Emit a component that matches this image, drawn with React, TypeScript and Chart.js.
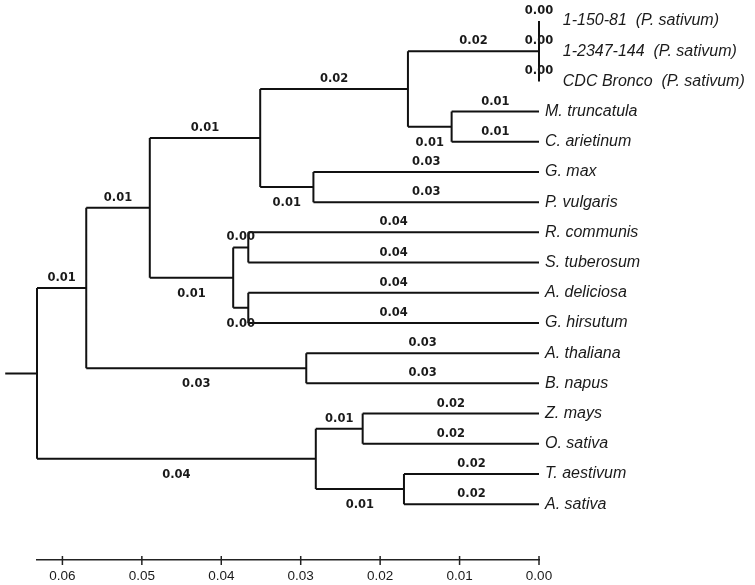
import React, { useEffect, useRef } from 'react';
import { Chart, registerables } from 'chart.js';

Chart.register(...registerables);

// Leaf (tip) names, top to bottom
const leafNames = [
  '1-150-81  (P. sativum)',
  '1-2347-144  (P. sativum)',
  'CDC Bronco  (P. sativum)',
  'M. truncatula',
  'C. arietinum',
  'G. max',
  'P. vulgaris',
  'R. communis',
  'S. tuberosum',
  'A. deliciosa',
  'G. hirsutum',
  'A. thaliana',
  'B. napus',
  'Z. mays',
  'O. sativa',
  'T. aestivum',
  'A. sativa',
];

// Tips all sit at distance 0
const tipHeight = 0;

// Internal nodes: ids, heights (distance from tips), children (leaf index or node id)
const nodeIds = ['A', 'B', 'C', 'D', 'E', 'F', 'G', 'H', 'I', 'J', 'K', 'L', 'M', 'N', 'R'];
const nodeHeights = [0, 0.0165, 0.011, 0.0351, 0.0284, 0.049, 0.0385, 0.0366, 0.0366, 0.057, 0.0293, 0.0281, 0.0222, 0.017, 0.0632];
const nodeChildren: (number | string)[][] = [
  [0, 1, 2],
  ['A', 'C'],
  [3, 4],
  ['B', 'E'],
  [5, 6],
  ['D', 'G'],
  ['H', 'I'],
  [7, 8],
  [9, 10],
  ['F', 'K'],
  [11, 12],
  ['M', 'N'],
  [13, 14],
  [15, 16],
  ['J', 'L'],
];
// Branch length labels, one per child edge
const branchLabels = [
  ['0.00', '0.00', '0.00'],
  ['0.02', '0.01'],
  ['0.01', '0.01'],
  ['0.02', '0.01'],
  ['0.03', '0.03'],
  ['0.01', '0.01'],
  ['0.00', '0.00'],
  ['0.04', '0.04'],
  ['0.04', '0.04'],
  ['0.01', '0.03'],
  ['0.03', '0.03'],
  ['0.01', '0.01'],
  ['0.02', '0.02'],
  ['0.02', '0.02'],
  ['0.01', '0.04'],
];
const rootId = 'R';
const rootStub = 0.004;

// Scale bar ticks
const axisTicks = [0, 0.01, 0.02, 0.03, 0.04, 0.05, 0.06];

const idxOf = (id: string) => nodeIds.indexOf(id);
function nodeY(c: number | string): number {
  if (typeof c === 'number') return c;
  const ch = nodeChildren[idxOf(c)];
  return (nodeY(ch[0]) + nodeY(ch[ch.length - 1])) / 2;
}
function nodeX(c: number | string): number {
  return typeof c === 'number' ? tipHeight : nodeHeights[idxOf(c)];
}

function buildSegments() {
  const pts: { x: number; y: number | null }[] = [];
  nodeIds.forEach((id, i) => {
    const ch = nodeChildren[i];
    const h = nodeHeights[i];
    // vertical
    pts.push({ x: h, y: nodeY(ch[0]) });
    pts.push({ x: h, y: nodeY(ch[ch.length - 1]) });
    pts.push({ x: h, y: null });
    // horizontals
    ch.forEach((c) => {
      const cy = nodeY(c);
      pts.push({ x: h, y: cy });
      pts.push({ x: nodeX(c), y: cy });
      pts.push({ x: h, y: null });
    });
  });
  const rh = nodeHeights[idxOf(rootId)];
  const ry = nodeY(rootId);
  pts.push({ x: rh + rootStub, y: ry });
  pts.push({ x: rh, y: ry });
  return pts;
}

const zeroLeaves = new Set<number>();
nodeIds.forEach((id, i) => {
  nodeChildren[i].forEach((c) => {
    if (typeof c === 'number' && nodeHeights[i] === tipHeight) zeroLeaves.add(c);
  });
});

const branchLabelPlugin = {
  id: 'branchLabels',
  afterDatasetsDraw(chart: any) {
    const { ctx, scales } = chart;
    const xs = scales.x;
    const ys = scales.y;
    ctx.save();
    ctx.font = 'bold 11.5px "DejaVu Sans"';
    ctx.fillStyle = '#1a1a1a';
    ctx.textAlign = 'center';
    ctx.textBaseline = 'middle';
    nodeIds.forEach((id, i) => {
      const ch = nodeChildren[i];
      ch.forEach((c, k) => {
        const x1 = xs.getPixelForValue(nodeHeights[i]);
        const x2 = xs.getPixelForValue(nodeX(c));
        const y = ys.getPixelForValue(nodeY(c));
        const below = typeof c !== 'number' && k === ch.length - 1 && ch.length > 1;
        const ty = below ? y + 16 : y - 10;
        ctx.fillText(branchLabels[i][k], (x1 + x2) / 2, ty);
      });
    });
    // scale bar tick marks
    ctx.strokeStyle = '#222';
    ctx.lineWidth = 1.5;
    const b = chart.chartArea.bottom;
    axisTicks.forEach((v) => {
      const px = xs.getPixelForValue(v);
      ctx.beginPath();
      ctx.moveTo(px, b - 4);
      ctx.lineTo(px, b + 5);
      ctx.stroke();
    });
    ctx.restore();
  },
};

export default function App() {
  const ref = useRef<HTMLCanvasElement>(null);
  useEffect(() => {
    if (!ref.current) return;
    const chart = new Chart(ref.current, {
      type: 'scatter',
      data: {
        datasets: [
          {
            data: buildSegments() as any,
            showLine: true,
            spanGaps: false,
            borderColor: '#111',
            borderWidth: 2,
            pointRadius: 0,
            pointHoverRadius: 0,
            clip: false as any,
          },
        ],
      },
      options: {
        animation: false,
        responsive: true,
        maintainAspectRatio: false,
        layout: { padding: { left: 37, top: 0, right: 0, bottom: 0 } },
        plugins: { legend: { display: false }, tooltip: { enabled: false } },
        scales: {
          x: {
            type: 'linear',
            position: 'bottom',
            reverse: true,
            min: 0,
            max: nodeHeights[idxOf(rootId)],
            afterBuildTicks: (s: any) => {
              s.ticks = axisTicks.map((v) => ({ value: v }));
            },
            afterFit: (s: any) => {
              s.height = 25;
              s.paddingLeft = 0;
              s.paddingRight = 0;
            },
            grid: { display: false, drawTicks: false },
            border: { display: true, color: '#222', width: 1.5 },
            ticks: {
              padding: 8,
              color: '#1a1a1a',
              autoSkip: false,
              maxRotation: 0,
              font: { family: 'Liberation Sans', size: 13.5 },
              callback: (v: any) => Number(v).toFixed(2),
            },
          },
          y: {
            type: 'linear',
            position: 'right',
            reverse: true,
            min: -0.695,
            max: 17.85,
            afterBuildTicks: (s: any) => {
              s.ticks = leafNames.map((_, i) => ({ value: i }));
            },
            afterFit: (s: any) => {
              s.width = 216;
              s.paddingTop = 0;
              s.paddingBottom = 0;
            },
            grid: { display: false, drawTicks: false },
            border: { display: false },
            ticks: {
              padding: 6,
              color: '#1a1a1a',
              autoSkip: false,
              font: { family: 'Liberation Sans', size: 16, style: 'italic' },
              callback: (v: any) => {
                const i = Math.round(Number(v));
                const name = leafNames[i] ?? '';
                return zeroLeaves.has(i) ? '    ' + name : name;
              },
            },
          },
        },
      },
      plugins: [branchLabelPlugin],
    });
    return () => chart.destroy();
  }, []);
  return (
    <div style={{ position: 'absolute', left: 0, top: 0, width: 755, height: 585, background: '#fff' }}>
      <canvas ref={ref} />
    </div>
  );
}
